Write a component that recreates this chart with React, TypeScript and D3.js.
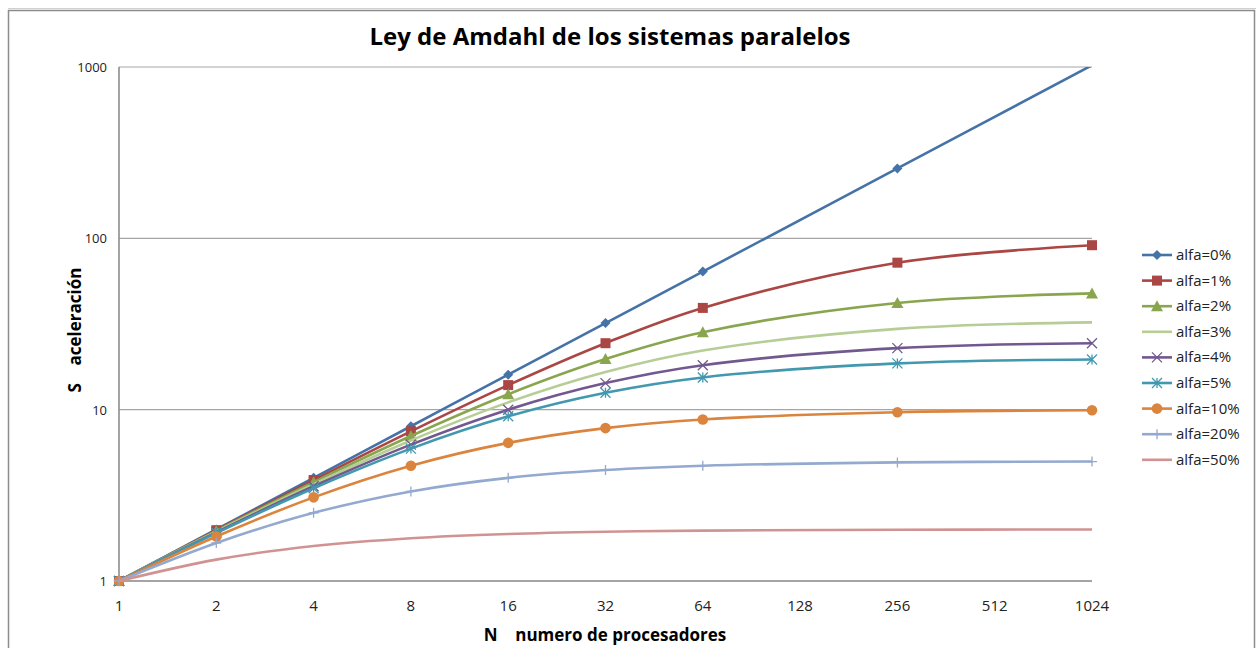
import React from "react";
import * as d3 from "d3";

const processors = [1, 2, 4, 8, 16, 32, 64, 256, 1024];
const xTicks = [1, 2, 4, 8, 16, 32, 64, 128, 256, 512, 1024];
const yTicks = [1, 10, 100, 1000];

const s0 = [1, 2, 4, 8, 16, 32, 64, 256, 1024];
const s1 = [1, 1.98, 3.883, 7.477, 13.91, 24.43, 39.26, 72.11, 91.18];
const s2 = [1, 1.961, 3.774, 7.018, 12.31, 19.75, 28.32, 41.97, 47.72];
const s3 = [1, 1.942, 3.67, 6.612, 11.03, 16.58, 22.15, 29.6, 32.31];
const s4 = [1, 1.923, 3.571, 6.25, 10.0, 14.29, 18.18, 22.86, 24.43];
const s5 = [1, 1.905, 3.478, 5.926, 9.143, 12.55, 15.42, 18.62, 19.64];
const s10 = [1, 1.818, 3.077, 4.706, 6.4, 7.805, 8.767, 9.66, 9.913];
const s20 = [1, 1.667, 2.5, 3.333, 4.0, 4.444, 4.706, 4.923, 4.981];
const s50 = [1, 1.333, 1.6, 1.778, 1.882, 1.939, 1.969, 1.992, 1.998];

const seriesNames = ["alfa=0%", "alfa=1%", "alfa=2%", "alfa=3%", "alfa=4%", "alfa=5%", "alfa=10%", "alfa=20%", "alfa=50%"];
const seriesValues = [s0, s1, s2, s3, s4, s5, s10, s20, s50];
const seriesColors = ["#4572A7", "#AA4643", "#89A54E", "#B6CD95", "#71588F", "#4198AF", "#DB843D", "#93A9CF", "#D19392"];
const seriesMarkers = ["diamond", "square", "triangle", "none", "x", "star", "circle", "plus", "none"];

const FONT = "'Open Sans', 'Liberation Sans', sans-serif";

function Marker({ type, cx, cy, color }: { type: string; cx: number; cy: number; color: string }) {
  const s = 5;
  switch (type) {
    case "diamond":
      return <path d={`M${cx},${cy - s}L${cx + s},${cy}L${cx},${cy + s}L${cx - s},${cy}Z`} fill={color} />;
    case "square":
      return <rect x={cx - s} y={cy - s} width={2 * s} height={2 * s} fill={color} />;
    case "triangle":
      return <path d={`M${cx},${cy - s - 1}L${cx + s + 1},${cy + s}L${cx - s - 1},${cy + s}Z`} fill={color} />;
    case "circle":
      return <circle cx={cx} cy={cy} r={s + 0.3} fill={color} />;
    case "x":
      return (
        <path d={`M${cx - s},${cy - s}L${cx + s},${cy + s}M${cx - s},${cy + s}L${cx + s},${cy - s}`} stroke={color} strokeWidth={1.3} fill="none" />
      );
    case "star":
      return (
        <path
          d={`M${cx - s},${cy - s}L${cx + s},${cy + s}M${cx - s},${cy + s}L${cx + s},${cy - s}M${cx},${cy - s}L${cx},${cy + s}`}
          stroke={color}
          strokeWidth={1.3}
          fill="none"
        />
      );
    case "plus":
      return (
        <path d={`M${cx - s},${cy}L${cx + s},${cy}M${cx},${cy - s}L${cx},${cy + s}`} stroke={color} strokeWidth={1.3} fill="none" />
      );
    default:
      return null;
  }
}

export default function App() {
  const left = 119, right = 1092, top = 67, bottom = 581;
  const x = d3.scaleLog().base(2).domain([1, 1024]).range([left, right]);
  const y = d3.scaleLog().base(10).domain([1, 1000]).range([bottom, top]);
  const line = d3
    .line<number>()
    .x((_, i) => x(processors[i]))
    .y((d) => y(d))
    .curve(d3.curveCatmullRom.alpha(0.5));

  const legendX = 1142;
  const legendY0 = 255;
  const legendStep = 25.6;

  return (
    <svg width={1257} height={648} style={{ position: "absolute", left: 0, top: 0, background: "#fff" }}>
      <defs>
        <clipPath id="plotClip">
          <rect x={left - 10} y={top} width={right - left + 20} height={bottom - top + 10} />
        </clipPath>
      </defs>
      <rect x={0} y={0} width={1257} height={648} fill="#fff" />
      {/* frame */}
      <path d="M8.5,660L8.5,10.5L1254.5,10.5L1254.5,660" fill="none" stroke="#8c8c8c" strokeWidth={1.5} />
      <line x1={8} x2={1256} y1={8.5} y2={8.5} stroke="#d0d0d0" strokeWidth={1} />

      <text x={610} y={45} textAnchor="middle" fontFamily={FONT} fontWeight="bold" fontSize={24} fill="#000">
        Ley de Amdahl de los sistemas paralelos
      </text>

      {/* gridlines */}
      {yTicks.filter((t) => t > 1).map((t) => (
        <line key={t} x1={left} x2={right} y1={y(t)} y2={y(t)} stroke="#a6a6a6" strokeWidth={1.2} />
      ))}
      {/* axes */}
      <line x1={left} x2={left} y1={top} y2={bottom} stroke="#868686" strokeWidth={1.5} />
      <line x1={left} x2={right} y1={bottom} y2={bottom} stroke="#868686" strokeWidth={1.5} />

      {yTicks.map((t) => (
        <text key={t} x={107} y={y(t) + 5} textAnchor="end" fontFamily={FONT} fontSize={13} fill="#222">
          {t}
        </text>
      ))}
      {xTicks.map((t) => (
        <text key={t} x={x(t)} y={611} textAnchor="middle" fontFamily={FONT} fontSize={15} fill="#222">
          {t}
        </text>
      ))}

      <text x={0} y={0} transform="translate(81,330) rotate(-90)" textAnchor="middle" fontFamily={FONT} fontWeight="bold" fontSize={17} fill="#000" style={{ whiteSpace: "pre" }}>
        {"S    aceleración"}
      </text>
      <text x={605} y={641} textAnchor="middle" fontFamily={FONT} fontWeight="bold" fontSize={17} fill="#000" style={{ whiteSpace: "pre" }}>
        {"N    numero de procesadores"}
      </text>

      <g clipPath="url(#plotClip)">
        {seriesValues.map((vals, si) => (
          <g key={si}>
            <path d={line(vals) || ""} fill="none" stroke={seriesColors[si]} strokeWidth={2.6} strokeLinejoin="round" />
            {vals.map((v, i) =>
              v <= 1000 ? <Marker key={i} type={seriesMarkers[si]} cx={x(processors[i])} cy={y(v)} color={seriesColors[si]} /> : null
            )}
          </g>
        ))}
      </g>

      {/* legend */}
      {seriesNames.map((name, i) => {
        const ly = legendY0 + i * legendStep;
        return (
          <g key={name}>
            <line x1={legendX} x2={legendX + 30} y1={ly} y2={ly} stroke={seriesColors[i]} strokeWidth={2.6} />
            <Marker type={seriesMarkers[i]} cx={legendX + 15} cy={ly} color={seriesColors[i]} />
            <text x={legendX + 34} y={ly + 5} fontFamily={FONT} fontSize={15} fill="#222">
              {name}
            </text>
          </g>
        );
      })}
    </svg>
  );
}
